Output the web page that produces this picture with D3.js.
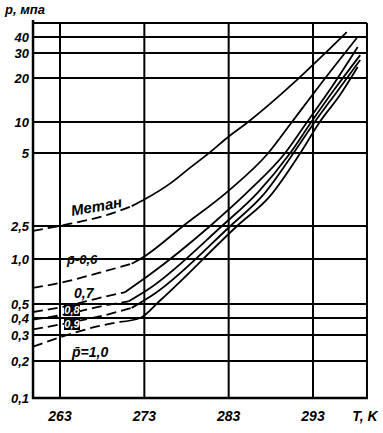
<!DOCTYPE html>
<html lang="ru">
<head>
<meta charset="utf-8">
<title>Hydrate curves</title>
<style>
    body { margin: 0; background: #fff; }
    svg { display: block; }
    .lbl {
        font-family: "Liberation Sans", Arial, sans-serif;
        font-style: italic;
        font-weight: bold;
        fill: #000;
    }
    .grid { stroke: #000; stroke-width: 2px; }
    .curve { fill: none; stroke: #000; stroke-width: 1.8px; }
</style>
</head>
<body>
<svg></svg>
<script src="https://d3js.org/d3.v7.min.js"></script>
<script>
    // temperature ticks, K
    var tTicks = [263, 273, 283, 293];
    var tRange = [259.8, 299.4];
    // pressure ticks, MPa (axis is drawn non-uniform, as in the original)
    var pTicks = [0.1, 0.2, 0.3, 0.4, 0.5, 1.0, 2.5, 5, 10, 20, 30, 40];
    var pTickLabels = ["0,1", "0,2", "0,3", "0,4", "0,5", "1,0", "2,5", "5", "10", "20", "30", "40"];
    var pTop = 50;

    var curveNames = ["Метан", "0,6", "0,7", "0,8", "0,9", "1,0"];
    // temperature below which the curve is drawn dashed
    var dashBelow = 271.6;

    var methane = [[259.8, 2.18], [263.4, 2.52], [268.9, 2.80], [271.5, 3.02], [273.1, 3.23], [276.0, 3.73],
        [278.4, 4.34], [280.8, 5.1], [282.8, 7.0], [285.3, 10], [287.9, 13.3], [291.1, 19.4], [294.1, 28.6], [297.0, 43.3]];
    var rel06 = [[259.8, 0.64], [263.4, 0.70], [267.7, 0.81], [271.5, 0.93], [273.1, 1.09], [277.6, 2.5],
        [282.8, 3.45], [287.7, 5.0], [290.5, 10], [294.1, 18.8], [298.2, 39.3]];
    var rel07 = [[259.8, 0.44], [264.2, 0.49], [267.7, 0.55], [270.7, 0.60], [273.7, 0.79], [280.8, 2.5],
        [285.5, 3.52], [289.7, 5.0], [292.3, 10], [295.0, 16.6], [298.3, 33.4]];
    var rel08 = [[259.8, 0.39], [264.2, 0.43], [267.7, 0.48], [271.1, 0.52], [273.7, 0.64], [282.2, 2.5],
        [286.5, 3.45], [290.3, 5.0], [292.8, 10], [295.5, 16.6], [298.6, 29.0]];
    var rel09 = [[259.8, 0.33], [264.2, 0.37], [267.7, 0.41], [271.5, 0.47], [274.3, 0.59], [283.2, 2.5],
        [287.2, 3.39], [290.7, 5.0], [293.2, 10], [295.8, 16.0], [298.6, 26.8]];
    var rel10 = [[259.8, 0.25], [264.2, 0.305], [267.7, 0.35], [270.1, 0.374], [272.5, 0.40], [274.9, 0.53],
        [284.0, 2.5], [287.9, 3.32], [291.5, 5.0], [293.8, 10], [296.2, 15.3], [298.3, 23.9]];
    var series = [methane, rel06, rel07, rel08, rel09, rel10];

    var W = 383, H = 433;
    var svg = d3.select("svg").attr("width", W).attr("height", H);

    var x = d3.scaleLinear().domain([263, 293]).range([60, 313]);
    // piecewise log scale: each labelled line sits where it is on the drawing
    var y = d3.scaleLog()
        .domain(pTicks.concat([pTop]))
        .range([398, 361, 335, 318, 304, 259, 226, 153, 122, 78, 53, 37, 23]);

    var x0 = x(tRange[0]), x1 = x(tRange[1]), yB = y(0.1), yT = y(pTop);

    var g = svg.append("g");

    // horizontal grid
    g.selectAll(".hg").data(pTicks.slice(1)).enter().append("line")
        .attr("class", "grid")
        .attr("x1", x0).attr("x2", x1)
        .attr("y1", d => y(d)).attr("y2", d => y(d));

    // vertical grid
    g.selectAll(".vg").data(tTicks).enter().append("line")
        .attr("class", "grid")
        .attr("x1", d => x(d)).attr("x2", d => x(d))
        .attr("y1", yT).attr("y2", yB);

    // frame
    g.append("line").attr("class", "grid").style("stroke-width", "2.5px")
        .attr("x1", x0).attr("x2", x0).attr("y1", yT - 3).attr("y2", yB + 1);
    g.append("line").attr("class", "grid").style("stroke-width", "2.5px")
        .attr("x1", x0 - 1).attr("x2", x1 + 1).attr("y1", yB).attr("y2", yB);
    g.append("line").attr("class", "grid")
        .attr("x1", x0).attr("x2", x1).attr("y1", yT).attr("y2", yT);
    g.append("line").attr("class", "grid")
        .attr("x1", x1).attr("x2", x1).attr("y1", yT).attr("y2", yB);

    // curves
    var line = d3.line()
        .x(d => x(d[0]))
        .y(d => y(d[1]))
        .curve(d3.curveMonotoneX);

    series.forEach(function(s) {
        var k = s.filter(d => d[0] <= dashBelow).length;
        var dashed = s.slice(0, k);
        var solid = s.slice(k - 1);
        g.append("path").attr("class", "curve")
            .attr("d", line(dashed))
            .attr("stroke-dasharray", "10,5");
        g.append("path").attr("class", "curve")
            .attr("d", line(solid));
    });

    // y tick labels
    g.selectAll(".yl").data(pTicks).enter().append("text")
        .attr("class", "lbl")
        .attr("x", 29)
        .attr("y", d => y(d) + 5)
        .attr("text-anchor", "end")
        .style("font-size", "13px")
        .text((d, i) => pTickLabels[i]);

    // x tick labels
    g.selectAll(".xl").data(tTicks).enter().append("text")
        .attr("class", "lbl")
        .attr("x", d => x(d))
        .attr("y", 421)
        .attr("text-anchor", "middle")
        .style("font-size", "14px")
        .text(d => d);

    g.append("text").attr("class", "lbl")
        .attr("x", 365).attr("y", 421)
        .attr("text-anchor", "middle")
        .style("font-size", "14px")
        .text("T, K");

    g.append("text").attr("class", "lbl")
        .attr("x", 5).attr("y", 14)
        .style("font-size", "13px")
        .text("p, мпа");

    // curve labels
    g.append("text").attr("class", "lbl")
        .attr("transform", "translate(72,216) rotate(-10)")
        .style("font-size", "15px")
        .text(curveNames[0]);

    g.append("text").attr("class", "lbl")
        .attr("x", 67).attr("y", 264)
        .style("font-size", "13px")
        .text("p\u0304-" + curveNames[1]);

    g.append("text").attr("class", "lbl")
        .attr("x", 74).attr("y", 298)
        .style("font-size", "14px")
        .text(curveNames[2]);

    [[curveNames[3], 304], [curveNames[4], 318]].forEach(function(d) {
        g.append("rect")
            .attr("x", 64).attr("y", d[1])
            .attr("width", 16).attr("height", 12)
            .attr("fill", "#000");
        g.append("text").attr("class", "lbl")
            .attr("x", 72).attr("y", d[1] + 10)
            .attr("text-anchor", "middle")
            .style("font-size", "11px")
            .style("fill", "#fff")
            .text(d[0]);
    });

    g.append("text").attr("class", "lbl")
        .attr("x", 72).attr("y", 357)
        .style("font-size", "14px")
        .text("p\u0304=" + curveNames[5]);
</script>
</body>
</html>
